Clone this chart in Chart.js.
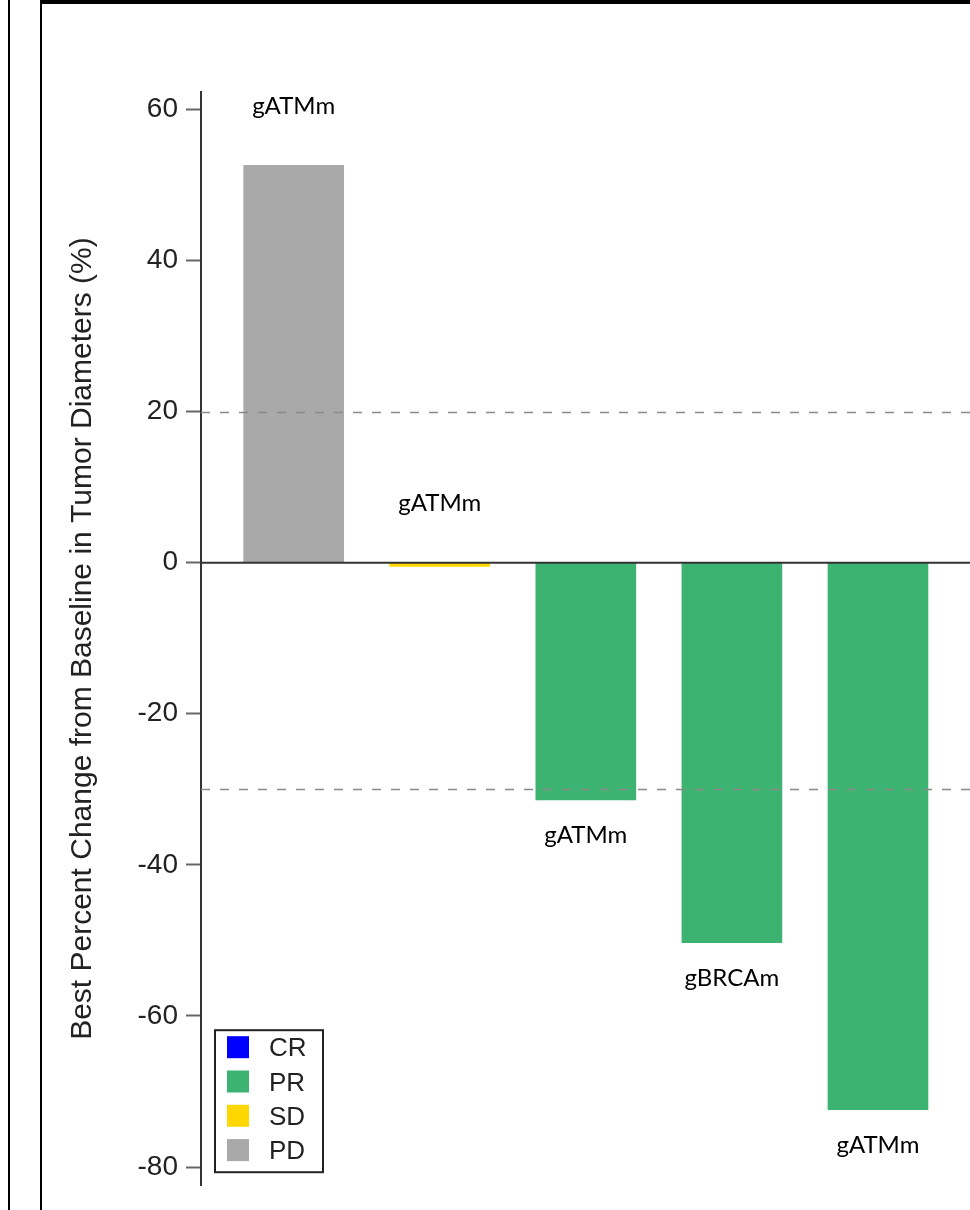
<!DOCTYPE html>
<html>
<head>
<meta charset="utf-8">
<script src="https://cdn.jsdelivr.net/npm/chart.js@4.4.1/dist/chart.umd.min.js"></script>
<style>
  html, body { margin: 0; padding: 0; background: #fff; width: 970px; height: 1210px; overflow: hidden; }
  .rule { position: absolute; background: #000; }
  #wrap { position: absolute; left: 42px; top: 4px; width: 928px; height: 1206px; }
</style>
</head>
<body>
<div class="rule" style="left:8px;top:0;width:2px;height:1210px"></div>
<div class="rule" style="left:40px;top:0;width:2px;height:1210px"></div>
<div class="rule" style="left:40px;top:0;width:930px;height:4px"></div>
<div id="wrap"><canvas id="c" width="928" height="1206"></canvas></div>
<script>
// Patients in waterfall order
const patients = [1, 2, 3, 4, 5];
// Best percent change from baseline in tumor diameters (%)
const bestChange = [52.6, -0.5, -31.4, -50.3, -72.4];
// Germline mutation per patient
const mutations = ['gATMm', 'gATMm', 'gATMm', 'gBRCAm', 'gATMm'];
// Best overall response per patient
const responses = ['PD', 'SD', 'PR', 'PR', 'PR'];
// Response categories and their colours
const responseTypes = ['CR', 'PR', 'SD', 'PD'];
const responseColors = ['#0000FF', '#3CB371', '#FFD700', '#A9A9A9'];
// Y axis ticks
const yTickValues = [-80, -60, -40, -20, 0, 20, 40, 60];
// Progression / response thresholds
const thresholds = [20, -30];

const colorFor = r => responseColors[responseTypes.indexOf(r)];

const overlays = {
  id: 'overlays',
  afterDatasetsDraw(chart) {
    const { ctx, chartArea: ca, scales: { y } } = chart;
    ctx.save();

    // dashed threshold lines
    ctx.strokeStyle = '#8a8a8a';
    ctx.lineWidth = 1.6;
    ctx.setLineDash([9, 10]);
    thresholds.forEach(v => {
      const py = Math.round(y.getPixelForValue(v)) + 0.5;
      ctx.beginPath();
      ctx.moveTo(ca.left, py);
      ctx.lineTo(ca.right, py);
      ctx.stroke();
    });
    ctx.setLineDash([]);

    // zero reference line
    const y0 = y.getPixelForValue(0);
    ctx.strokeStyle = '#333';
    ctx.lineWidth = 2;
    ctx.beginPath();
    ctx.moveTo(ca.left, y0);
    ctx.lineTo(ca.right, y0);
    ctx.stroke();

    // mutation labels at bar ends
    const meta = chart.getDatasetMeta(0);
    ctx.fillStyle = '#000';
    ctx.font = '24px Lato';
    ctx.textAlign = 'center';
    ctx.textBaseline = 'alphabetic';
    meta.data.forEach((bar, i) => {
      const v = bestChange[i];
      let capCenter;
      if (v > -1) {
        capCenter = y.getPixelForValue(Math.max(v, 0)) - 60;
      } else {
        capCenter = y.getPixelForValue(v) + 35;
      }
      ctx.fillText(mutations[i], bar.x, capCenter + 8.6);
    });

    // response legend box
    const bx = ca.left + 14, bw = 108, bh = 142;
    const by = ca.bottom - 13 - bh;
    ctx.fillStyle = '#fff';
    ctx.fillRect(bx, by, bw, bh);
    ctx.strokeStyle = '#222';
    ctx.lineWidth = 2;
    ctx.strokeRect(bx, by, bw, bh);
    ctx.font = '26px "Liberation Sans"';
    ctx.textAlign = 'left';
    responseTypes.forEach((r, i) => {
      const cy = by + 17 + i * 34.3;
      ctx.fillStyle = responseColors[i];
      ctx.fillRect(bx + 12, cy - 11, 22, 22);
      ctx.fillStyle = '#222';
      ctx.fillText(r, bx + 54, cy + 9.2);
    });

    ctx.restore();
  }
};

new Chart(document.getElementById('c'), {
  type: 'bar',
  data: {
    datasets: [{
      data: patients.map((p, i) => ({ x: p, y: bestChange[i] })),
      backgroundColor: responses.map(colorFor),
      borderWidth: 0,
      barThickness: 100
    }]
  },
  options: {
    responsive: false,
    animation: false,
    devicePixelRatio: 1,
    layout: { padding: { top: 88, bottom: 20, left: 0, right: 0 } },
    plugins: { legend: { display: false }, tooltip: { enabled: false } },
    scales: {
      x: {
        type: 'linear',
        display: false,
        offset: false,
        min: 0.3655,
        max: 5.63,
        grid: { display: false }
      },
      y: {
        type: 'linear',
        min: -82.4,
        max: 62.3,
        afterBuildTicks: s => { s.ticks = yTickValues.map(v => ({ value: v })); },
        afterFit: s => { s.width = 159; },
        border: { display: true, color: '#333', width: 2 },
        grid: {
          drawOnChartArea: false,
          drawTicks: true,
          tickLength: 15,
          tickWidth: 2,
          tickColor: '#666',
          color: '#666'
        },
        ticks: {
          color: '#222',
          font: { family: 'Liberation Sans', size: 28 },
          padding: 8,
          autoSkip: false
        },
        title: {
          display: true,
          text: 'Best Percent Change from Baseline in Tumor Diameters (%)',
          color: '#222',
          font: { family: 'Liberation Sans', size: 30 },
          padding: { top: 23, bottom: 0 }
        }
      }
    }
  },
  plugins: [overlays]
});
</script>
</body>
</html>
